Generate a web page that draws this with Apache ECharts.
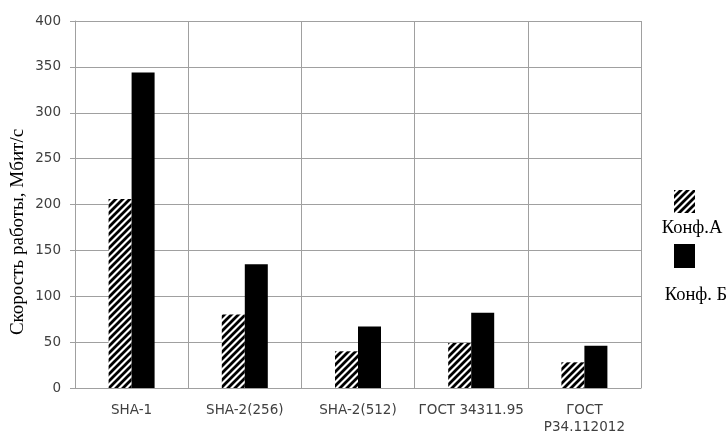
<!DOCTYPE html>
<html>
<head>
<meta charset="utf-8">
<script src="https://cdn.jsdelivr.net/npm/echarts@6/dist/echarts.min.js"></script>
<style>
html,body{margin:0;padding:0;background:#fff;}
#c{width:726px;height:436px;}
</style>
</head>
<body>
<div id="c"></div>
<script>
const categories = ['SHA-1', 'SHA-2(256)', 'SHA-2(512)', 'ГОСТ 34311.95', 'ГОСТ\nР34.112012'];
const seriesNames = ['Конф.А', 'Конф. Б'];
const confA = [206, 80, 40, 49, 28];
const confB = [344, 135, 67, 82, 46];
const yTicks = [0, 50, 100, 150, 200, 250, 300, 350, 400];
const yTitle = 'Скорость работы, Мбит/с';

function hatch() {
  const s = 7;
  const c = document.createElement('canvas');
  c.width = s; c.height = s;
  const g = c.getContext('2d');
  g.fillStyle = '#fff';
  g.fillRect(0, 0, s, s);
  g.strokeStyle = '#000';
  g.lineWidth = 2.8;
  g.beginPath();
  for (let k = -1; k <= 1; k++) {
    g.moveTo(k * s - 1, s + 1);
    g.lineTo(k * s + s + 1, -1);
  }
  g.stroke();
  return { image: c, repeat: 'repeat' };
}
const hatchFill = hatch();

const chart = echarts.init(document.getElementById('c'), null, { renderer: 'canvas' });
const gridCol = '#a0a0a0';
const labelFont = { fontFamily: 'DejaVu Sans', fontSize: 13.5, color: '#404040' };

chart.setOption({
  animation: false,
  backgroundColor: '#fff',
  grid: { left: 75, right: 85, top: 21, bottom: 45, containLabel: false },
  legend: [
    {
      data: [seriesNames[0]], orient: 'vertical', left: 669, top: 185,
      icon: 'rect', itemWidth: 21, itemHeight: 23, formatter: () => '',
      textStyle: { fontSize: 1 }, selectedMode: false
    },
    {
      data: [seriesNames[1]], orient: 'vertical', left: 669, top: 239,
      icon: 'rect', itemWidth: 21, itemHeight: 24, formatter: () => '',
      textStyle: { fontSize: 1 }, selectedMode: false
    }
  ],
  graphic: [
    {
      type: 'text', x: 18, y: 232, rotation: Math.PI / 2,
      style: { text: yTitle, font: '19px "Liberation Serif"', fill: '#000', align: 'center', verticalAlign: 'middle' }
    },
    {
      type: 'text', x: 692, y: 228,
      style: { text: seriesNames[0], font: '18.5px "Liberation Serif"', fill: '#000', align: 'center', verticalAlign: 'middle' }
    },
    {
      type: 'text', x: 696, y: 295,
      style: { text: seriesNames[1], font: '18.5px "Liberation Serif"', fill: '#000', align: 'center', verticalAlign: 'middle' }
    }
  ],
  xAxis: {
    type: 'category',
    data: categories,
    axisLine: { show: true, lineStyle: { color: gridCol, width: 1 } },
    axisTick: { show: false },
    axisLabel: Object.assign({ margin: 14, interval: 0, lineHeight: 17 }, labelFont),
    splitLine: { show: true, interval: 0, lineStyle: { color: gridCol, width: 1 } }
  },
  yAxis: {
    type: 'value',
    min: yTicks[0], max: yTicks[yTicks.length - 1], interval: 50,
    axisLine: { show: true, lineStyle: { color: gridCol, width: 1 } },
    axisTick: { show: true, length: 5, lineStyle: { color: gridCol } },
    axisLabel: Object.assign({ margin: 14 }, labelFont),
    splitLine: { show: true, lineStyle: { color: gridCol, width: 1 } }
  },
  series: [
    {
      name: seriesNames[0], type: 'bar', data: confA, barWidth: 23, barGap: '0%',
      itemStyle: { color: hatchFill }
    },
    {
      name: seriesNames[1], type: 'bar', data: confB, barWidth: 23, barGap: '0%',
      itemStyle: { color: '#000' }
    }
  ]
});
</script>
</body>
</html>
